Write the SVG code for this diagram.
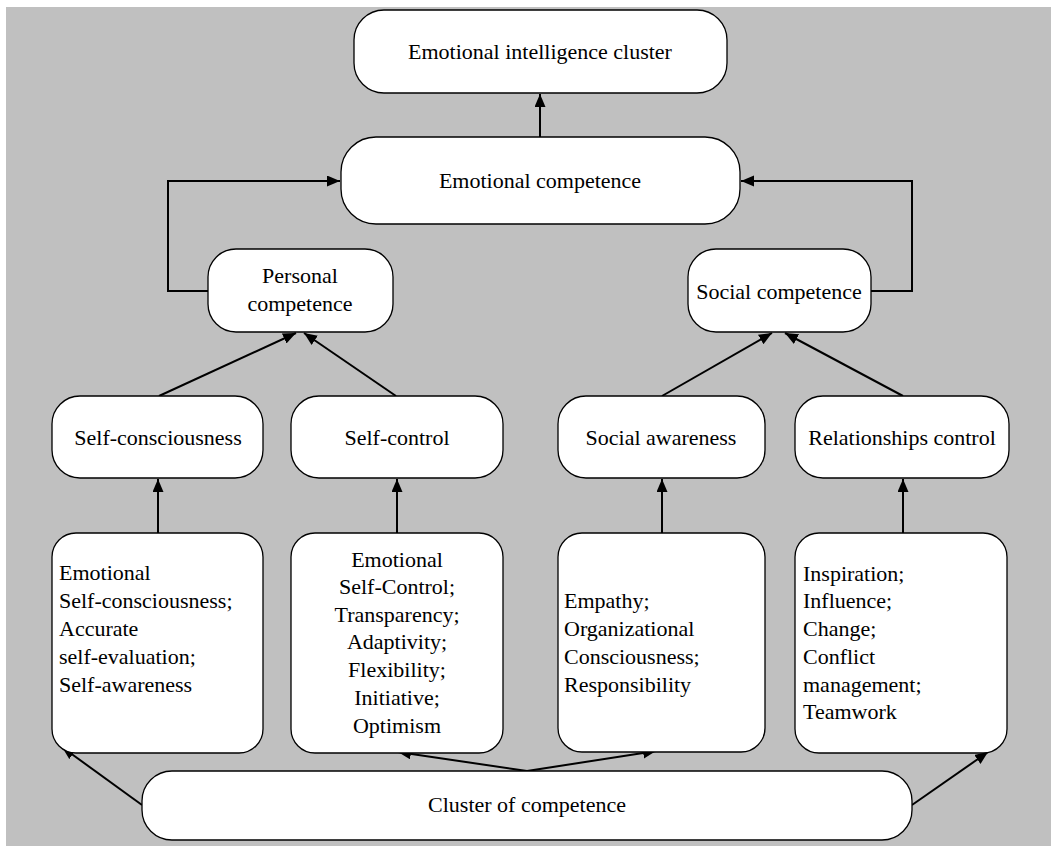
<svg xmlns="http://www.w3.org/2000/svg" width="1051" height="847" viewBox="0 0 1051 847">
<style>
.box{fill:#fff;stroke:#000;stroke-width:1.3}
.t{font-size:22px;fill:#000}
.c{text-anchor:middle}
.ln{fill:none;stroke:#000;stroke-width:2}
</style>
<defs>
<marker id="ah" markerUnits="userSpaceOnUse" markerWidth="14" markerHeight="12" refX="13" refY="5.5" orient="auto">
<path d="M0,0 L13,5.5 L0,11 z" fill="#000"/>
</marker>
</defs>
<rect x="6" y="7" width="1045" height="839" fill="#c0c0c0"/>
<g id="connectors">
<line class="ln" x1="540" y1="137" x2="540" y2="94" marker-end="url(#ah)"/>
<polyline class="ln" points="208,291 168,291 168,181 340,181" marker-end="url(#ah)"/>
<polyline class="ln" points="871,291 912,291 912,181 741,181" marker-end="url(#ah)"/>
<line class="ln" x1="159" y1="396" x2="296" y2="333" marker-end="url(#ah)"/>
<line class="ln" x1="396" y1="396" x2="304" y2="333" marker-end="url(#ah)"/>
<line class="ln" x1="662" y1="396" x2="772" y2="333" marker-end="url(#ah)"/>
<line class="ln" x1="903" y1="396" x2="785" y2="333" marker-end="url(#ah)"/>
<line class="ln" x1="158" y1="533" x2="158" y2="479" marker-end="url(#ah)"/>
<line class="ln" x1="397" y1="533" x2="397" y2="479" marker-end="url(#ah)"/>
<line class="ln" x1="662" y1="533" x2="662" y2="479" marker-end="url(#ah)"/>
<line class="ln" x1="903" y1="533" x2="903" y2="479" marker-end="url(#ah)"/>
<line class="ln" x1="142" y1="805" x2="62" y2="747" marker-end="url(#ah)"/>
<line class="ln" x1="912" y1="805" x2="988" y2="752" marker-end="url(#ah)"/>
<line class="ln" x1="527" y1="771" x2="398" y2="752" marker-end="url(#ah)"/>
<line class="ln" x1="527" y1="771" x2="656" y2="751" marker-end="url(#ah)"/>
</g>
<g font-family="Liberation Serif, Times New Roman, DejaVu Serif, serif">
<g id="n-eic">
<rect class="box" x="354" y="10" width="373" height="83" rx="30"/>
<text class="t c" x="540" y="59">Emotional intelligence cluster</text>
</g>
<g id="n-ec">
<rect class="box" x="341" y="137" width="399" height="87" rx="35"/>
<text class="t c" x="540" y="188">Emotional competence</text>
</g>
<g id="n-pc">
<rect class="box" x="208" y="249" width="185" height="83" rx="28"/>
<text class="t c" x="300" y="283">Personal</text>
<text class="t c" x="300" y="311">competence</text>
</g>
<g id="n-sc">
<rect class="box" x="688" y="249" width="183" height="83" rx="28"/>
<text class="t c" x="779" y="299">Social competence</text>
</g>
<g id="n-self-consciousness">
<rect class="box" x="52" y="396" width="211" height="82" rx="28"/>
<text class="t c" x="158" y="445">Self-consciousness</text>
</g>
<g id="n-self-control">
<rect class="box" x="291" y="396" width="212" height="82" rx="28"/>
<text class="t c" x="397" y="445">Self-control</text>
</g>
<g id="n-social-awareness">
<rect class="box" x="558" y="396" width="207" height="82" rx="28"/>
<text class="t c" x="661" y="445">Social awareness</text>
</g>
<g id="n-relationships">
<rect class="box" x="795" y="396" width="214" height="82" rx="28"/>
<text class="t c" x="902" y="445">Relationships control</text>
</g>
<g id="n-list1">
<rect class="box" x="52" y="533" width="211" height="220" rx="24"/>
<text class="t" x="59" y="580">Emotional</text>
<text class="t" x="59" y="608">Self-consciousness;</text>
<text class="t" x="59" y="636">Accurate</text>
<text class="t" x="59" y="664">self-evaluation;</text>
<text class="t" x="59" y="692">Self-awareness</text>
</g>
<g id="n-list2">
<rect class="box" x="291" y="533" width="212" height="220" rx="24"/>
<text class="t c" x="397" y="567">Emotional</text>
<text class="t c" x="397" y="594">Self-Control;</text>
<text class="t c" x="397" y="622">Transparency;</text>
<text class="t c" x="397" y="649">Adaptivity;</text>
<text class="t c" x="397" y="677">Flexibility;</text>
<text class="t c" x="397" y="705">Initiative;</text>
<text class="t c" x="397" y="733">Optimism</text>
</g>
<g id="n-list3">
<rect class="box" x="558" y="533" width="207" height="219" rx="24"/>
<text class="t" x="564" y="608">Empathy;</text>
<text class="t" x="564" y="636">Organizational</text>
<text class="t" x="564" y="664">Consciousness;</text>
<text class="t" x="564" y="692">Responsibility</text>
</g>
<g id="n-list4">
<rect class="box" x="795" y="533" width="212" height="220" rx="24"/>
<text class="t" x="803" y="581">Inspiration;</text>
<text class="t" x="803" y="608">Influence;</text>
<text class="t" x="803" y="636">Change;</text>
<text class="t" x="803" y="664">Conflict</text>
<text class="t" x="803" y="692">management;</text>
<text class="t" x="803" y="719">Teamwork</text>
</g>
<g id="n-cluster">
<rect class="box" x="142" y="771" width="770" height="69" rx="30"/>
<text class="t c" x="527" y="812">Cluster of competence</text>
</g>
</g>
</svg>
